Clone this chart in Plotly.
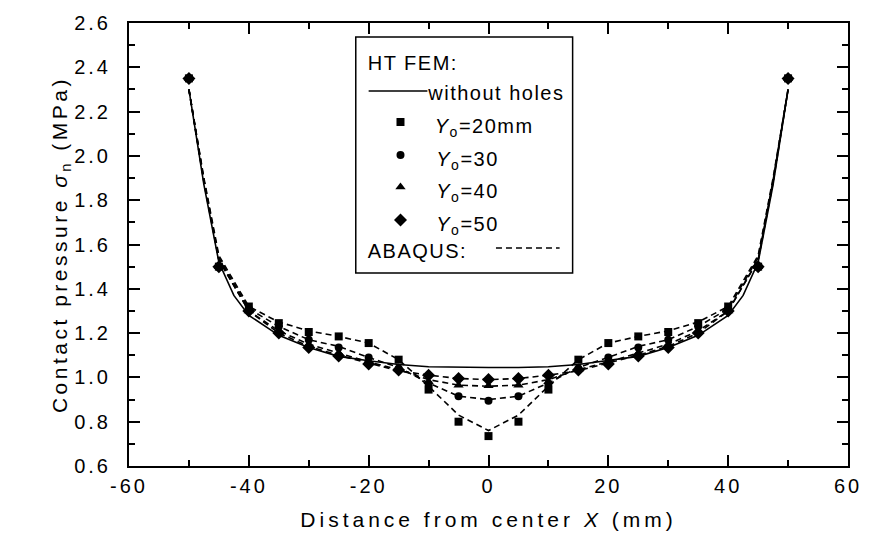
import plotly.graph_objects as go

# ---- HT FEM results (markers), sampled every 5 mm ----
x_ht = [-50, -45, -40, -35, -30, -25, -20, -15, -10, -5, 0,
        5, 10, 15, 20, 25, 30, 35, 40, 45, 50]
ht_y20 = [2.35, 1.50, 1.32, 1.245, 1.205, 1.185, 1.155, 1.08, 0.945, 0.80, 0.735,
          0.80, 0.945, 1.08, 1.155, 1.185, 1.205, 1.245, 1.32, 1.50, 2.35]
ht_y30 = [2.35, 1.50, 1.31, 1.23, 1.17, 1.135, 1.09, 1.04, 0.97, 0.915, 0.895,
          0.915, 0.97, 1.04, 1.09, 1.135, 1.17, 1.23, 1.31, 1.50, 2.35]
ht_y40 = [2.35, 1.50, 1.30, 1.21, 1.15, 1.11, 1.07, 1.035, 0.98, 0.965, 0.962,
          0.965, 0.98, 1.035, 1.07, 1.11, 1.15, 1.21, 1.30, 1.50, 2.35]
ht_y50 = [2.35, 1.50, 1.30, 1.20, 1.135, 1.097, 1.06, 1.033, 1.01, 0.995, 0.99,
          0.995, 1.01, 1.033, 1.06, 1.097, 1.135, 1.20, 1.30, 1.50, 2.35]

# ---- ABAQUS results (dashed lines) ----
x_abq = [-50, -47.5, -45, -40, -35, -30, -25, -20, -15, -10, -5, 0,
         5, 10, 15, 20, 25, 30, 35, 40, 45, 47.5, 50]
abq_y20 = [2.30, 1.90, 1.55, 1.32, 1.25, 1.21, 1.185, 1.155, 1.08, 0.96, 0.83, 0.76,
           0.83, 0.96, 1.08, 1.155, 1.185, 1.21, 1.25, 1.32, 1.55, 1.90, 2.30]
abq_y30 = [2.30, 1.89, 1.54, 1.31, 1.23, 1.17, 1.14, 1.09, 1.045, 0.975, 0.915, 0.90,
           0.915, 0.975, 1.045, 1.09, 1.14, 1.17, 1.23, 1.31, 1.54, 1.89, 2.30]
abq_y40 = [2.30, 1.89, 1.53, 1.30, 1.21, 1.15, 1.11, 1.07, 1.035, 0.99, 0.965, 0.96,
           0.965, 0.99, 1.035, 1.07, 1.11, 1.15, 1.21, 1.30, 1.53, 1.89, 2.30]
abq_y50 = [2.30, 1.88, 1.53, 1.30, 1.20, 1.14, 1.10, 1.065, 1.03, 1.01, 0.995, 0.99,
           0.995, 1.01, 1.03, 1.065, 1.10, 1.14, 1.20, 1.30, 1.53, 1.88, 2.30]

# ---- HT FEM, plate without holes (solid line) ----
x_solid = [-50, -47.5, -45, -42.5, -40, -35, -30, -25, -20, -15, -10, -5, 0,
           5, 10, 15, 20, 25, 30, 35, 40, 42.5, 45, 47.5, 50]
y_solid = [2.30, 1.87, 1.52, 1.37, 1.28, 1.19, 1.135, 1.095, 1.075, 1.058, 1.048, 1.045, 1.045,
           1.045, 1.048, 1.058, 1.075, 1.095, 1.135, 1.19, 1.28, 1.37, 1.52, 1.87, 2.30]

# axis ticks (plain hyphen for negatives)
x_tickvals = [-60, -40, -20, 0, 20, 40, 60]
x_ticktext = ["-60", "-40", "-20", "0", "20", "40", "60"]

# legend entries
series_labels = ["<i>Y</i><sub>o</sub>=20mm", "<i>Y</i><sub>o</sub>=30",
                 "<i>Y</i><sub>o</sub>=40", "<i>Y</i><sub>o</sub>=50"]
symbols = ["square", "circle", "triangle-up", "diamond"]

FONT = "Liberation Sans, Arial, sans-serif"
BLACK = "#000000"

fig = go.Figure()

fig.add_trace(go.Scatter(x=x_solid, y=y_solid, mode="lines",
                         line=dict(color=BLACK, width=1.6), showlegend=False))

for ys in [abq_y20, abq_y30, abq_y40, abq_y50]:
    fig.add_trace(go.Scatter(x=x_abq, y=ys, mode="lines",
                             line=dict(color=BLACK, width=1.6, dash="6px,4px"),
                             showlegend=False))

marker_sizes = [8, 8, 9, 10]
for ys, sym, ms in zip([ht_y20, ht_y30, ht_y40, ht_y50], symbols, marker_sizes):
    fig.add_trace(go.Scatter(x=x_ht, y=ys, mode="markers",
                             marker=dict(symbol=sym, size=ms, color=BLACK, line=dict(width=0)),
                             showlegend=False))

# ---- hand-built legend box (paper fractions on an overlay axis pair) ----
box_x0, box_x1, box_y0, box_y1 = 0.3154, 0.6170, 0.4357, 0.9684
fig.add_shape(type="rect", xref="paper", yref="paper",
              x0=box_x0, x1=box_x1, y0=box_y0, y1=box_y1,
              line=dict(color=BLACK, width=1.5), fillcolor="white", layer="below")

row_y = [0.7765, 0.702, 0.630, 0.5553]
marker_x = 0.3776
text_x = 0.430

for yy, sym, ms in zip(row_y, symbols, marker_sizes):
    fig.add_trace(go.Scatter(x=[marker_x], y=[yy], xaxis="x2", yaxis="y2", mode="markers",
                             marker=dict(symbol=sym, size=ms, color=BLACK, line=dict(width=0)),
                             showlegend=False, hoverinfo="skip"))

fig.add_trace(go.Scatter(x=[0.3333, 0.4150], y=[0.8465, 0.8465], xaxis="x2", yaxis="y2",
                         mode="lines", line=dict(color=BLACK, width=1.6),
                         showlegend=False, hoverinfo="skip"))
fig.add_trace(go.Scatter(x=[0.5104, 0.5989], y=[0.4921, 0.4921], xaxis="x2", yaxis="y2",
                         mode="lines", line=dict(color=BLACK, width=1.6, dash="6px,4px"),
                         showlegend=False, hoverinfo="skip"))

legend_font = dict(family=FONT, size=20, color=BLACK)
annotations = [
    dict(x=0.336, y=0.9097, text="HT FEM:", xanchor="left", yanchor="middle"),
    dict(x=0.4260, y=0.842, text="without holes", xanchor="left", yanchor="middle"),
    dict(x=0.336, y=0.4853, text="ABAQUS:", xanchor="left", yanchor="middle"),
]
for yy, lab in zip(row_y, series_labels):
    annotations.append(dict(x=text_x, y=yy - 0.012, text=lab, xanchor="left", yanchor="middle"))
for a in annotations:
    a.update(xref="paper", yref="paper", showarrow=False, font=legend_font)

axis_common = dict(showline=True, linecolor=BLACK, linewidth=2, mirror="ticks",
                   ticks="inside", ticklen=11, tickwidth=2, tickcolor=BLACK,
                   showgrid=False, zeroline=False,
                   tickfont=dict(family=FONT, size=20, color=BLACK))

fig.update_layout(
    width=871, height=551,
    margin=dict(l=129, r=19, t=23, b=85),
    paper_bgcolor="white", plot_bgcolor="white",
    showlegend=False,
    annotations=annotations,
    xaxis=dict(range=[-60, 60], tickmode="array", tickvals=x_tickvals, ticktext=x_ticktext,
               ticklabelstandoff=1,
               minor=dict(dtick=10, tick0=0, ticks="inside", ticklen=6, tickwidth=2, tickcolor=BLACK),
               title=dict(text="Distance from center <i>X</i> (mm)",
                          font=dict(family=FONT, size=21, color=BLACK), standoff=16),
               **axis_common),
    yaxis=dict(range=[0.6, 2.6], tickmode="linear", tick0=0.6, dtick=0.2, tickformat=".1f",
               ticklabelstandoff=12,
               minor=dict(dtick=0.1, ticks="inside", ticklen=6, tickwidth=2, tickcolor=BLACK),
               title=dict(text="Contact pressure <i>σ</i><sub>n</sub> (MPa)",
                          font=dict(family=FONT, size=21, color=BLACK), standoff=10),
               **axis_common),
    xaxis2=dict(range=[0, 1], overlaying="x", visible=False, fixedrange=True),
    yaxis2=dict(range=[0, 1], overlaying="y", visible=False, fixedrange=True),
)

# wide letter spacing of the axis and legend lettering
spacing_css = (
    "var s=document.createElement('style');"
    "s.textContent='.xtick text,.ytick text{letter-spacing:3px}"
    ".xtitle{letter-spacing:4px}.ytitle{letter-spacing:3.5px}"
    ".annotation-text{letter-spacing:1.5px}';"
    "document.head.appendChild(s);"
)

fig.write_html("out.html", post_script=spacing_css)
